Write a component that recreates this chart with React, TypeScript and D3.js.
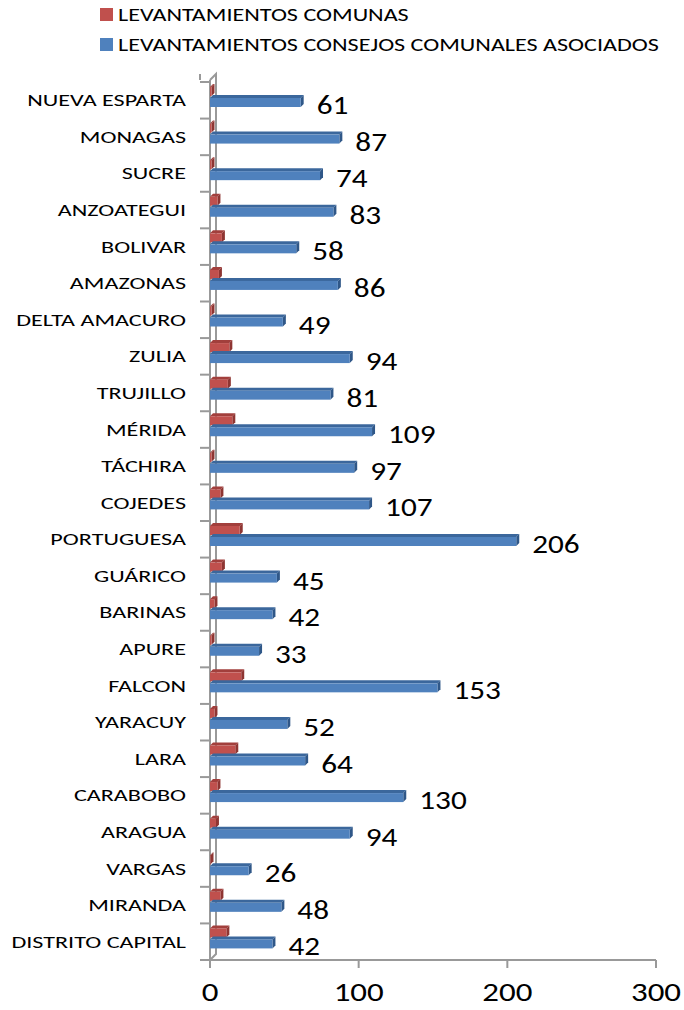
import React from 'react';
import * as d3 from 'd3';

// estados, de arriba hacia abajo
const categories = [
  'NUEVA ESPARTA', 'MONAGAS', 'SUCRE', 'ANZOATEGUI', 'BOLIVAR', 'AMAZONAS',
  'DELTA AMACURO', 'ZULIA', 'TRUJILLO', 'MÉRIDA', 'TÁCHIRA', 'COJEDES',
  'PORTUGUESA', 'GUÁRICO', 'BARINAS', 'APURE', 'FALCON', 'YARACUY', 'LARA',
  'CARABOBO', 'ARAGUA', 'VARGAS', 'MIRANDA', 'DISTRITO CAPITAL',
];

const comunas = [1, 1, 1, 5, 8, 6, 1, 13, 12, 15, 1, 7, 20, 8, 3, 1, 21, 3, 17, 5, 4, 0, 7, 11];

// levantamientos consejos comunales asociados
const consejos = [61, 87, 74, 83, 58, 86, 49, 94, 81, 109, 97, 107, 206, 45, 42, 33, 153, 52, 64, 130, 94, 26, 48, 42];

const xTicks = [0, 100, 200, 300];

const seriesNames = ['LEVANTAMIENTOS COMUNAS', 'LEVANTAMIENTOS CONSEJOS COMUNALES ASOCIADOS'];

const FONT = 'Carlito, Calibri, Lato, sans-serif';

const RED = { front: '#C0504D', top: '#A23F3C', side: '#8E3532' };
const BLUE = { front: '#4F81BD', top: '#3B679C', side: '#2F5788' };

// texto algo estirado a lo ancho (la imagen original está ensanchada)
const SText = ({ x, y, s, size, anchor = 'start', children }: any) => (
  <text transform={`translate(${x},${y}) scale(${s},1)`} textAnchor={anchor}
    fontFamily={FONT} fontSize={size} fill="#000">{children}</text>
);

// barra con un poco de profundidad, como en Excel
const Bar3D = ({ x0, x1, y, h, c }: any) => {
  const d = 3;
  const w = Math.max(x1 - x0, 0.5);
  return (
    <g>
      <path d={`M${x0},${y} L${x0 + d},${y - d} L${x0 + w + d},${y - d} L${x0 + w},${y} Z`} fill={c.top} />
      <path d={`M${x0 + w},${y} L${x0 + w + d},${y - d} L${x0 + w + d},${y + h - d} L${x0 + w},${y + h} Z`} fill={c.side} />
      <rect x={x0} y={y} width={w} height={h} fill={c.front} />
    </g>
  );
};

export default function App() {
  const width = 684;
  const height = 1010;

  const x = d3.scaleLinear().domain([0, 300]).range([210, 656]);
  const y = d3.scaleBand().domain(categories).range([82, 960]);
  const bw = y.bandwidth();
  const axisY = 960;
  const depth = 6;

  return (
    <svg width={width} height={height} style={{ position: 'absolute', left: 0, top: 0, background: '#fff' }}>
      {/* leyenda */}
      {seriesNames.map((name, i) => (
        <g key={name} transform={`translate(100,${8 + i * 30})`}>
          <rect width={13} height={13} fill={i === 0 ? RED.front : BLUE.front} />
          <SText x={18} y={13} s={1.27} size={19}>{name}</SText>
        </g>
      ))}

      {/* ejes */}
      <g stroke="#999" strokeWidth={2} fill="none">
        <line x1={x(0)} y1={80} x2={x(0)} y2={axisY + 8} />
        <path d={`M${x(0)},80 L${x(0) + depth},74 L${x(0) + depth},${axisY - depth} L${x(0)},${axisY}`} />
        <line x1={x(0) - 10} y1={axisY} x2={x(300)} y2={axisY} />
        {categories.map((c) => (
          <line key={c} x1={x(0) - 10} y1={y(c)!} x2={x(0)} y2={y(c)!} />
        ))}
        <line x1={x(0) - 10} y1={74} x2={x(0) - 10} y2={80} />
        {xTicks.map((t) => (
          <line key={t} x1={x(t)} y1={axisY} x2={x(t)} y2={axisY + 8} />
        ))}
      </g>

      {/* barras */}
      {categories.map((c, i) => {
        const y0 = y(c)!;
        return (
          <g key={c}>
            <Bar3D x0={x(0)} x1={x(comunas[i])} y={y0 + 5} h={9} c={RED} />
            <Bar3D x0={x(0)} x1={x(consejos[i])} y={y0 + 16} h={9} c={BLUE} />
          </g>
        );
      })}

      {/* etiquetas de categoría */}
      {categories.map((c) => (
        <SText key={c} x={186} y={y(c)! + bw / 2 + 6} s={1.42} size={17} anchor="end">{c}</SText>
      ))}

      {/* valores */}
      {categories.map((c, i) => (
        <SText key={c} x={x(consejos[i]) + 16} y={y(c)! + 32} s={1.2} size={26}>{consejos[i]}</SText>
      ))}

      {/* eje x */}
      {xTicks.map((t) => (
        <SText key={t} x={x(t)} y={1001} s={1.22} size={27} anchor="middle">{t}</SText>
      ))}
    </svg>
  );
}
